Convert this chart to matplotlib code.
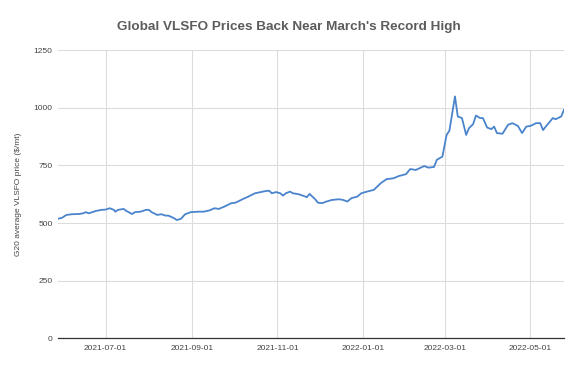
import numpy as np
import pandas as pd
import matplotlib
matplotlib.use("Agg")
import matplotlib.pyplot as plt
import matplotlib.dates as mdates

plt.rcParams["font.family"] = ["Liberation Sans", "DejaVu Sans"]

# G20 average VLSFO price ($/mt)
dates = [
    "2021-05-28", "2021-05-31", "2021-06-03", "2021-06-07", "2021-06-12", "2021-06-15",
    "2021-06-17", "2021-06-19", "2021-06-24", "2021-06-28", "2021-07-01", "2021-07-04",
    "2021-07-07", "2021-07-08", "2021-07-10", "2021-07-14", "2021-07-16", "2021-07-20",
    "2021-07-22", "2021-07-26", "2021-07-30", "2021-08-01", "2021-08-03", "2021-08-07",
    "2021-08-10", "2021-08-13", "2021-08-15", "2021-08-19", "2021-08-21", "2021-08-24",
    "2021-08-26", "2021-08-27", "2021-08-31", "2021-09-05", "2021-09-09", "2021-09-13",
    "2021-09-17", "2021-09-20", "2021-09-24", "2021-09-29", "2021-10-02", "2021-10-07",
    "2021-10-11", "2021-10-16", "2021-10-20", "2021-10-24", "2021-10-26", "2021-10-28",
    "2021-10-31", "2021-11-03", "2021-11-05", "2021-11-07", "2021-11-10", "2021-11-12",
    "2021-11-16", "2021-11-19", "2021-11-22", "2021-11-24", "2021-11-28", "2021-11-30",
    "2021-12-03", "2021-12-06", "2021-12-10", "2021-12-15", "2021-12-18", "2021-12-21",
    "2021-12-24", "2021-12-28", "2021-12-31", "2022-01-04", "2022-01-09", "2022-01-14",
    "2022-01-18", "2022-01-23", "2022-01-27", "2022-01-29", "2022-02-01", "2022-02-04",
    "2022-02-08", "2022-02-14", "2022-02-17", "2022-02-21", "2022-02-23", "2022-02-27",
    "2022-03-02", "2022-03-04", "2022-03-08", "2022-03-10", "2022-03-13", "2022-03-16",
    "2022-03-18", "2022-03-21", "2022-03-23", "2022-03-26", "2022-03-28", "2022-03-31",
    "2022-04-03", "2022-04-05", "2022-04-07", "2022-04-11", "2022-04-15", "2022-04-18",
    "2022-04-22", "2022-04-25", "2022-04-28", "2022-05-01", "2022-05-05", "2022-05-08",
    "2022-05-10", "2022-05-13", "2022-05-17", "2022-05-19", "2022-05-23", "2022-05-25",
]
prices = [
    518, 523, 535, 538, 539, 542,
    547, 542, 552, 557, 558, 564,
    557, 549, 557, 561, 552, 539,
    547, 549, 557, 557, 547, 535,
    538, 532, 532, 521, 513, 518,
    532, 538, 547, 549, 549, 554,
    564, 561, 571, 586, 588, 603,
    614, 629, 634, 639, 640, 629,
    634, 629, 619, 629, 636, 629,
    625, 619, 612, 626, 603, 588,
    586, 593, 600, 603, 600, 593,
    608, 614, 629, 636, 644, 673,
    690, 694, 704, 707, 712, 734,
    730, 747, 740, 743, 774, 788,
    882, 900, 1049, 962, 955, 882,
    911, 929, 966, 955, 955, 914,
    907, 918, 890, 887, 926, 933,
    921, 890, 918, 921, 933, 933,
    903, 926, 955, 950, 962, 991,
]

x = pd.to_datetime(dates)
tick_dates = pd.to_datetime(["2021-07-01", "2021-09-01", "2021-11-01",
                             "2022-01-01", "2022-03-01", "2022-05-01"])
y_ticks = [0, 250, 500, 750, 1000, 1250]

fig = plt.figure(figsize=(5.78, 3.68), dpi=100)
ax = fig.add_axes([0.1003, 0.0807, 0.8755, 0.7833])

ax.plot(x, prices, color="#4a84cc", lw=1.3, zorder=3)

ax.set_xlim(x.min(), x.max())
ax.set_ylim(0, 1250)
ax.set_yticks(y_ticks)
ax.set_xticks(tick_dates)
ax.xaxis.set_major_formatter(mdates.DateFormatter("%Y-%m-%d"))
ax.grid(True, color="#dcdcdc", lw=0.8)
ax.set_axisbelow(True)
for s in ["top", "right", "left"]:
    ax.spines[s].set_visible(False)
ax.spines["bottom"].set_color("#333333")
ax.spines["bottom"].set_linewidth(0.9)
ax.tick_params(length=0, labelsize=6, colors="#444444", pad=5)
ax.tick_params(axis="y", pad=4)

ax.set_ylabel("G20 average VLSFO price ($/mt)", fontsize=6, color="#444444", labelpad=8)
fig.text(0.5, 0.9255, "Global VLSFO Prices Back Near March's Record High",
         ha="center", va="center", fontsize=9.7, fontweight="bold", color="#5c5c5c")

fig.savefig("out.png", dpi=100, facecolor="white")
